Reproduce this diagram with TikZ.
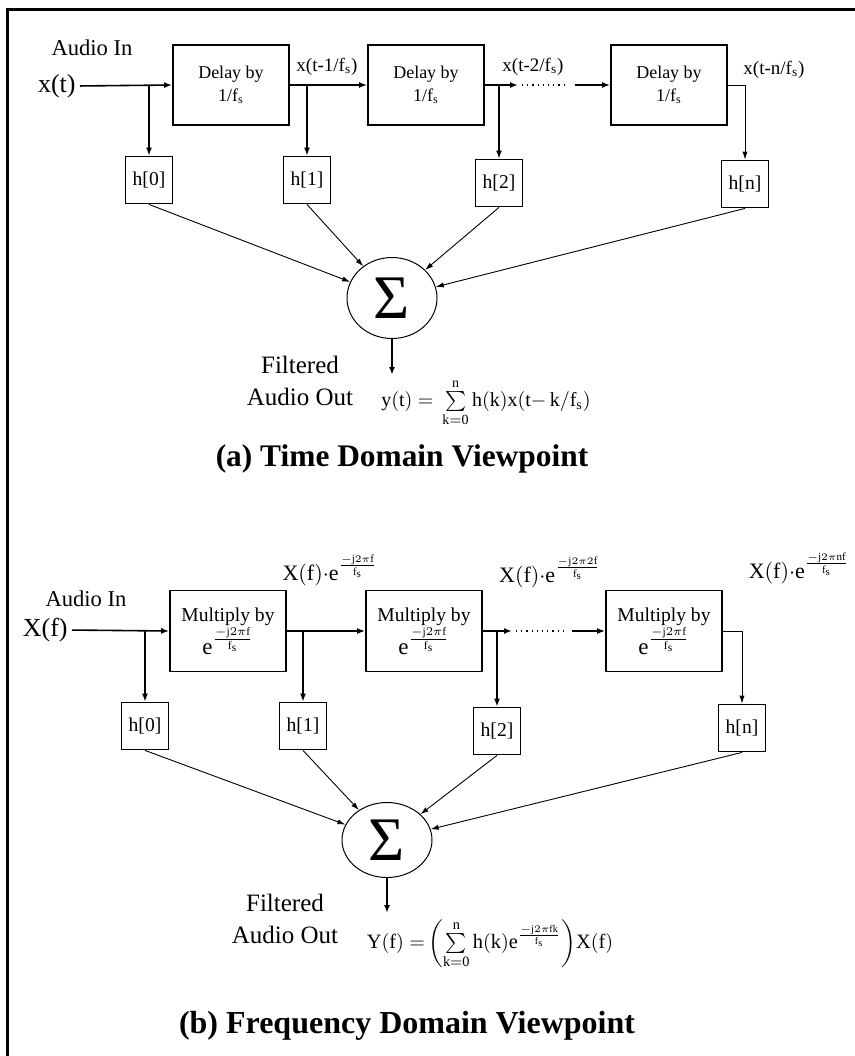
\documentclass[tikz,border=0pt]{standalone}
\usepackage{amsmath}
\usepackage{fontspec}
\setmainfont{Liberation Serif}
\usetikzlibrary{arrows.meta,shapes.geometric}

\newcommand{\ephase}[1]{\mathrm{e}^{\frac{-\mathrm{j}2\pi #1}{\mathrm{f_s}}}}

\begin{document}
\begin{tikzpicture}[x=0.5pt, y=-0.5pt,
  blk/.style={draw, line width=0.9pt, minimum width=58pt, minimum height=40pt, align=center, inner sep=1pt},
  tap/.style={draw, line width=0.9pt, minimum width=23.5pt, minimum height=23.5pt, inner sep=0pt, font=\fontsize{9.8}{11}\selectfont},
  adder/.style={draw, ellipse, line width=0.5pt, minimum width=45pt, inner sep=0pt, font=\fontsize{31}{31}\selectfont},
  sig/.style={-{Latex[length=4pt,width=3pt]}, line width=0.8pt},
  feed/.style={-{Latex[length=4pt,width=2.6pt]}, line width=0.45pt},
  lbl/.style={inner sep=0pt}]
  \useasboundingbox (0,0) rectangle (855,1056);

  % Frame
  \draw[line width=1.5pt] (7,1056) -- (7,9) -- (855,9);

  % (a) Time domain
  \node[lbl, font=\fontsize{11.3}{13}\selectfont] (ain1) at (92,48) {Audio In};
  \node[lbl, font=\fontsize{13}{15}\selectfont, anchor=east] (xt) at (76,86) {x(t)};
  \node[blk, font=\fontsize{9}{11.5}\selectfont] (d1) at (231,85) {Delay by\\1/f\textsubscript{s}};
  \node[blk, font=\fontsize{9}{11.5}\selectfont] (d2) at (426,85) {Delay by\\1/f\textsubscript{s}};
  \node[blk, font=\fontsize{9}{11.5}\selectfont] (d3) at (669,85) {Delay by\\1/f\textsubscript{s}};
  \coordinate (a2) at (518,85);
  \coordinate (a3) at (575,85);

  \node[tap] (h0) at (149,180) {h[0]};
  \node[tap] (h1) at (307,180) {h[1]};
  \node[tap] (h2) at (499,183) {h[2]};
  \node[tap] (hn) at (745,184) {h[n]};

  \node[lbl, font=\fontsize{9.5}{11}\selectfont] (lx1) at (327,67) {x(t-1/f\textsubscript{s})};
  \node[lbl, font=\fontsize{9.5}{11}\selectfont] (lx2) at (533,67) {x(t-2/f\textsubscript{s})};
  \node[lbl, font=\fontsize{9.5}{11}\selectfont] (lx3) at (774,70) {x(t-n/f\textsubscript{s})};

  \draw[sig, shorten <=2pt] (xt.east) -- (d1.west);
  \draw[sig] (d1.east) -- (d2.west);
  \draw[sig] (d2.east) -- (a2);
  \draw[dotted, line width=0.6pt] (a2) ++(4,0) -- ([xshift=-4pt]a3);
  \draw[sig] (a3) -- (d3.west);
  \draw[sig] (h0.north |- d1.west) -- (h0.north);
  \draw[sig] (h1.north |- d1.east) -- (h1.north);
  \draw[sig] (h2.north |- d2.east) -- (h2.north);
  \draw[feed] (d3.east) -| (hn.north);

  \node[adder, minimum height=40.5pt] (s1) at (392,298) {Σ};
  \draw[feed] (h0.south) -- (s1);
  \draw[feed] (h1.south) -- (s1);
  \draw[feed] (h2.south) -- (s1);
  \draw[feed] (hn.south) -- (s1);
  \coordinate (y1) at (392,375);
  \draw[sig] (s1.south) -- (y1);

  \node[lbl, align=center, font=\fontsize{12.5}{16}\selectfont] (out1) at (300,381) {Filtered\\Audio Out};
  \node[lbl, font=\fontsize{10}{12}\selectfont] (eq1) at (486,403)
    {$\mathrm{y(t)}\;{=}\;\sum\limits_{\mathrm{k=0}}^{\mathrm{n}}\mathrm{h(k)x(t{-}\,k/f_s)}$};
  \node[lbl, font=\bfseries\fontsize{15.7}{18}\selectfont] (ta) at (402,459) {(a) Time Domain Viewpoint};

  % (b) Frequency domain
  \node[lbl, font=\fontsize{11.3}{13}\selectfont] (ain2) at (86,599) {Audio In};
  \node[lbl, font=\fontsize{13}{15}\selectfont, anchor=east] (xf) at (68,630) {X(f)};
  \node[blk, minimum height=40.5pt, font=\fontsize{9.8}{13}\selectfont] (m1) at (228,631) {Multiply by\\{\fontsize{11.5}{13}\selectfont$\ephase{\mathrm{f}}$}};
  \node[blk, minimum height=40.5pt, font=\fontsize{9.8}{13}\selectfont] (m2) at (424,631) {Multiply by\\{\fontsize{11.5}{13}\selectfont$\ephase{\mathrm{f}}$}};
  \node[blk, minimum height=40.5pt, font=\fontsize{9.8}{13}\selectfont] (m3) at (664,631) {Multiply by\\{\fontsize{11.5}{13}\selectfont$\ephase{\mathrm{f}}$}};
  \coordinate (b2) at (512,631);
  \coordinate (b3) at (572,631);

  \node[tap] (g0) at (145,726) {h[0]};
  \node[tap] (g1) at (303,726) {h[1]};
  \node[tap] (g2) at (497,731) {h[2]};
  \node[tap] (gn) at (742,728) {h[n]};

  \node[lbl, font=\fontsize{11}{13}\selectfont] (lf1) at (330,570) {$\mathrm{X(f)}{\cdot}\ephase{\mathrm{f}}$};
  \node[lbl, font=\fontsize{11}{13}\selectfont] (lf2) at (550,572) {$\mathrm{X(f)}{\cdot}\ephase{2\mathrm{f}}$};
  \node[lbl, font=\fontsize{11}{13}\selectfont] (lf3) at (799,568) {$\mathrm{X(f)}{\cdot}\ephase{\mathrm{nf}}$};

  \draw[sig, shorten <=2pt] (xf.east) -- (m1.west);
  \draw[sig] (m1.east) -- (m2.west);
  \draw[sig] (m2.east) -- (b2);
  \draw[dotted, line width=0.6pt] (b2) ++(4,0) -- ([xshift=-4pt]b3);
  \draw[sig] (b3) -- (m3.west);
  \draw[sig] (g0.north |- m1.west) -- (g0.north);
  \draw[sig] (g1.north |- m1.east) -- (g1.north);
  \draw[sig] (g2.north |- m2.east) -- (g2.north);
  \draw[feed] (m3.east) -| (gn.north);

  \node[adder, minimum height=37.5pt] (s2) at (387,840) {Σ};
  \draw[feed] (g0.south) -- (s2);
  \draw[feed] (g1.south) -- (s2);
  \draw[feed] (g2.south) -- (s2);
  \draw[feed] (gn.south) -- (s2);
  \coordinate (y2) at (387,913);
  \draw[sig] (s2.south) -- (y2);

  \node[lbl, align=center, font=\fontsize{12.5}{16}\selectfont] (out2) at (285,919) {Filtered\\Audio Out};
  \node[lbl, font=\fontsize{10.2}{12}\selectfont] (eq2) at (490,944)
    {$\mathrm{Y(f)}\;{=}\left(\sum\limits_{\mathrm{k=0}}^{\mathrm{n}}\mathrm{h(k)}\ephase{\mathrm{fk}}\right)\!\mathrm{X(f)}$};
  \node[lbl, font=\bfseries\fontsize{16}{18}\selectfont] (tb) at (407,1026) {(b) Frequency Domain Viewpoint};
\end{tikzpicture}
\end{document}
